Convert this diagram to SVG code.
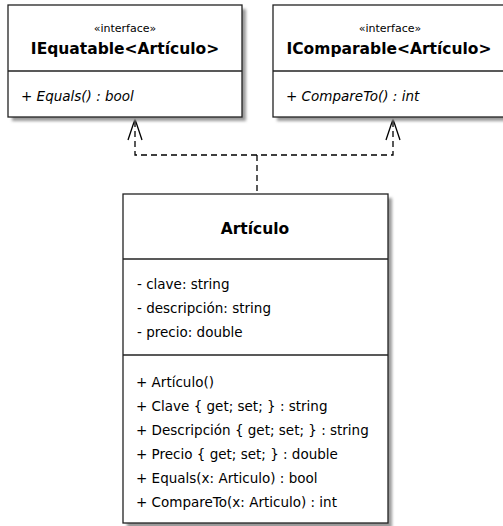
<svg xmlns="http://www.w3.org/2000/svg" width="503" height="526" viewBox="0 0 503 526">
<style>
.box{fill:#fff;stroke:#222;stroke-width:1.3}
.shadow{fill:#9a9a9a;filter:url(#blur)}
.div{stroke:#222;stroke-width:1.3}
.st{font-family:"DejaVu Sans",sans-serif;font-size:11px;fill:#000;text-anchor:middle}
.ttl{font-family:"DejaVu Sans",sans-serif;font-size:15.5px;font-weight:bold;fill:#000;text-anchor:middle}
.mem{font-family:"DejaVu Sans",sans-serif;font-size:13.5px;fill:#000}
.it{font-style:italic}
.dash{fill:none;stroke:#000;stroke-width:1.3;stroke-dasharray:6 4}
.head{fill:none;stroke:#000;stroke-width:1.3}
</style>
<defs>
<filter id="blur" x="-10%" y="-10%" width="120%" height="120%"><feGaussianBlur stdDeviation="1.5"/></filter>
</defs>
<rect width="503" height="526" fill="#fff"/>
<g id="connectors">
<path class="dash" d="M135,121 V155 H393 V121"/>
<path class="dash" d="M257,155 V194"/>
<path class="head" d="M128,140 L135,119 L142,140"/>
<path class="head" d="M386,140 L393,119 L400,140"/>
</g>
<g id="iequatable">
<rect class="shadow" x="12" y="9" width="234" height="112"/>
<rect class="box" x="8" y="5" width="234" height="112"/>
<line class="div" x1="8" y1="71" x2="242" y2="71"/>
<text class="st" x="125" y="32">«interface»</text>
<text class="ttl" x="125" y="54">IEquatable&lt;Artículo&gt;</text>
<text class="mem it" x="21" y="101">+ Equals() : bool</text>
</g>
<g id="icomparable">
<rect class="shadow" x="277" y="9" width="240" height="112"/>
<rect class="box" x="273" y="5" width="240" height="112"/>
<line class="div" x1="273" y1="71" x2="513" y2="71"/>
<text class="st" x="390" y="32">«interface»</text>
<text class="ttl" x="389" y="54">IComparable&lt;Artículo&gt;</text>
<text class="mem it" x="286" y="101">+ CompareTo() : int</text>
</g>
<g id="articulo">
<rect class="shadow" x="127" y="198" width="265" height="330"/>
<rect class="box" x="123" y="194" width="265" height="329"/>
<line class="div" x1="123" y1="259" x2="388" y2="259"/>
<line class="div" x1="123" y1="355" x2="388" y2="355"/>
<text class="ttl" x="255" y="234">Artículo</text>
<text class="mem" x="137" y="289">- clave: string</text>
<text class="mem" x="137" y="313">- descripción: string</text>
<text class="mem" x="137" y="337">- precio: double</text>
<text class="mem" x="136" y="387">+ Artículo()</text>
<text class="mem" x="136" y="411">+ Clave { get; set; } : string</text>
<text class="mem" x="136" y="435">+ Descripción { get; set; } : string</text>
<text class="mem" x="136" y="459">+ Precio { get; set; } : double</text>
<text class="mem" x="136" y="483">+ Equals(x: Articulo) : bool</text>
<text class="mem" x="136" y="507">+ CompareTo(x: Articulo) : int</text>
</g>
</svg>
